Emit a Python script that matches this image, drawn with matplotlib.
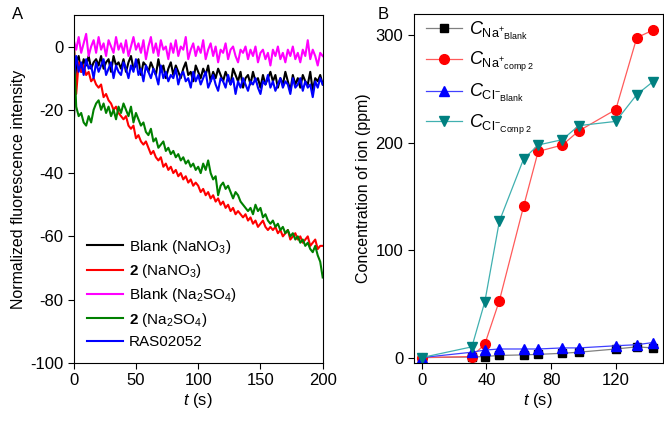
import numpy as np
import matplotlib
matplotlib.use('Agg')
import matplotlib.pyplot as plt

plt.rcParams['font.family'] = ['Liberation Sans', 'DejaVu Sans']
plt.rcParams['mathtext.fontset'] = 'custom'
plt.rcParams['mathtext.rm'] = 'Liberation Sans'
plt.rcParams['mathtext.it'] = 'Liberation Sans:italic'
plt.rcParams['mathtext.bf'] = 'Liberation Sans:bold'
plt.rcParams['axes.unicode_minus'] = False

# Panel A: fluorescence traces, one value every 2 s (0..200 s)
t_a = np.arange(0, 201, 2)
blank_nano3 = [-25, -5, -3, -8, -4, -6, -3, -7, -5, -4,
               -6, -3, -7, -5, -4, -8, -3, -6, -5, -7,
               -4, -8, -5, -3, -7, -6, -4, -9, -5, -6,
               -8, -5, -7, -9, -4, -8, -6, -10, -7, -5,
               -9, -6, -8, -10, -7, -5, -9, -8, -11, -6,
               -8, -10, -7, -9, -6, -11, -8, -10, -7, -9,
               -11, -8, -10, -12, -7, -9, -11, -8, -13, -10,
               -9, -12, -8, -11, -10, -13, -9, -12, -10, -8,
               -11, -9, -13, -10, -12, -8, -11, -14, -9, -12,
               -10, -13, -9, -11, -12, -8, -14, -10, -11, -9,
               -12]
comp2_nano3 = [3, -15, -5, -8, -6, -9, -8, -11, -10, -12,
               -13, -12, -16, -15, -17, -18, -20, -19, -21, -22,
               -23, -22, -25, -26, -25, -29, -28, -30, -31, -30,
               -32, -34, -33, -35, -36, -35, -38, -37, -39, -38,
               -40, -39, -41, -40, -42, -41, -43, -42, -44, -43,
               -44, -46, -45, -47, -46, -48, -47, -49, -48, -50,
               -49, -51, -50, -52, -51, -53, -52, -53, -54, -53,
               -55, -54, -56, -55, -57, -56, -55, -57, -58, -57,
               -58, -57, -59, -58, -60, -59, -58, -61, -60, -59,
               -61, -60, -62, -61, -60, -63, -62, -61, -64, -63,
               -63]
blank_na2so4 = [2, -1, 3, -2, 1, 4, -3, 0, 2, -2,
                3, -1, 1, -3, 2, 0, -2, 3, -1, 1,
                -2, 2, -3, 0, 3, -1, 1, -2, 2, -4,
                0, 3, -2, 1, -3, 2, -1, 0, -4, 1,
                -2, 2, -3, 0, -1, 3, -4, -1, 1, -3,
                0, -2, 2, -4, -1, 1, -3, 0, -5, -1,
                -2, 1, -4, -1, 0, -3, -5, -1, -2, 0,
                -4, -1, -3, 0, -5, -2, -1, -4, -2, -6,
                -1, -3, 0, -4, -2, -5, -1, -3, 0, -4,
                -2, -5, -1, -3, 2, -4, -1, -3, -6, -2,
                -3]
comp2_na2so4 = [1, -19, -22, -21, -24, -25, -22, -24, -20, -18,
                -17, -20, -18, -21, -19, -22, -20, -23, -19, -21,
                -18, -20, -22, -19, -24, -21, -23, -25, -24, -27,
                -28, -26, -30, -29, -32, -31, -30, -33, -32, -34,
                -33, -35, -34, -36, -35, -37, -36, -38, -37, -39,
                -38, -40, -37, -39, -36, -40, -42, -41, -47, -44,
                -43, -45, -44, -46, -48, -46, -47, -49, -50, -51,
                -52, -51, -53, -50, -52, -51, -54, -53, -55, -56,
                -55, -57, -56, -58, -57, -59, -58, -60, -59, -61,
                -60, -62, -61, -63, -62, -64, -65, -63, -66, -68,
                -73]
ras02052 = [-10, -3, -8, -5, -9, -4, -7, -6, -10, -5,
            -8, -6, -4, -9, -7, -5, -10, -6, -8, -9,
            -5, -7, -10, -6, -8, -4, -9, -7, -11, -6,
            -8, -10, -7, -9, -12, -6, -10, -8, -11, -9,
            -10, -7, -12, -9, -8, -11, -10, -13, -8, -11,
            -9, -12, -10, -8, -13, -11, -9, -12, -14, -10,
            -11, -13, -9, -12, -10, -15, -11, -13, -10, -12,
            -14, -11, -12, -10, -13, -15, -11, -12, -9, -13,
            -11, -14, -12, -10, -13, -11, -12, -15, -10, -13,
            -12, -10, -14, -11, -13, -12, -16, -11, -13, -10,
            -12]

# Panel B: ion concentrations
t_b = [0, 31, 39, 48, 63, 72, 87, 97, 120, 133, 143]
na_blank = [0, 0.5, 1, 2, 2.5, 3, 4, 5, 8, 10, 9]
na_comp2 = [0, 1, 12.5, 53, 141, 192, 198, 211, 231, 298, 305]
cl_blank = [0, 5, 7, 8, 8, 8, 9, 9, 11, 12, 14]
cl_comp2 = [0, 10, 52, 127, 185, 198, 203, 216, 220, 245, 257]

fig = plt.figure(figsize=(6.64, 4.25), dpi=100)
axA = fig.add_axes([0.111, 0.146, 0.375, 0.819])
axB = fig.add_axes([0.623, 0.146, 0.375, 0.821])

# ---- A
axA.plot(t_a, blank_nano3, color='black', lw=1.5, label='Blank (NaNO$_3$)')
axA.plot(t_a, comp2_nano3, color='#ff0000', lw=1.5, label='$\\bf{2}$ (NaNO$_3$)')
axA.plot(t_a, blank_na2so4, color='#ff00ff', lw=1.5, label='Blank (Na$_2$SO$_4$)')
axA.plot(t_a, comp2_na2so4, color='#008000', lw=1.5, label='$\\bf{2}$ (Na$_2$SO$_4$)')
axA.plot(t_a, ras02052, color='#0000ff', lw=1.5, label='RAS02052')
axA.set_xlim(0, 200)
axA.set_ylim(-100, 10)
axA.set_xticks([0, 50, 100, 150, 200])
axA.set_yticks([-100, -80, -60, -40, -20, 0])
axA.tick_params(labelsize=12, direction='out', length=4)
axA.set_xlabel('$\\it{t}$ (s)', fontsize=12, labelpad=2)
axA.set_ylabel('Normalized fluorescence intensity', fontsize=11.5, labelpad=3)
axA.legend(loc='lower left', bbox_to_anchor=(0.0, 0.0), frameon=False,
           fontsize=11, handlelength=2.3, handletextpad=0.4, labelspacing=0.42)
fig.text(0.018, 0.955, 'A', fontsize=12)

# ---- B
ms = 7
axB.plot(t_b, na_blank, color='#808080', lw=0.9, marker='s', ms=ms - 1,
         mfc='black', mec='black', label='$\\it{C}_{\\rm{Na^{+}}_{\\rm{Blank}}}$')
axB.plot(t_b, na_comp2, color='#ff5a5a', lw=0.9, marker='o', ms=ms,
         mfc='#ff0000', mec='#ff0000', label='$\\it{C}_{\\rm{Na^{+}}_{\\rm{comp\\ 2}}}$')
axB.plot(t_b, cl_blank, color='#4040ff', lw=0.9, marker='^', ms=ms,
         mfc='#0000ff', mec='#0000ff', label='$\\it{C}_{\\rm{Cl^{-}}_{\\rm{Blank}}}$')
axB.plot(t_b, cl_comp2, color='#40b0b0', lw=0.9, marker='v', ms=ms,
         mfc='#008080', mec='#008080', label='$\\it{C}_{\\rm{Cl^{-}}_{\\rm{Comp\\ 2}}}$')
axB.set_xlim(-5, 149)
axB.set_ylim(-5, 320)
axB.set_xticks([0, 40, 80, 120])
axB.set_yticks([0, 100, 200, 300])
axB.tick_params(labelsize=12, direction='out', length=4)
axB.set_xlabel('$\\it{t}$ (s)', fontsize=12, labelpad=2)
axB.set_ylabel('Concentration of ion (ppm)', fontsize=11.5, labelpad=3)
axB.legend(loc='upper left', bbox_to_anchor=(0.0, 1.02), frameon=False,
           fontsize=13, handlelength=2.0, handletextpad=0.35, labelspacing=0.45,
           borderaxespad=0.3)
fig.text(0.568, 0.955, 'B', fontsize=12)

fig.savefig('out.png', dpi=100)
